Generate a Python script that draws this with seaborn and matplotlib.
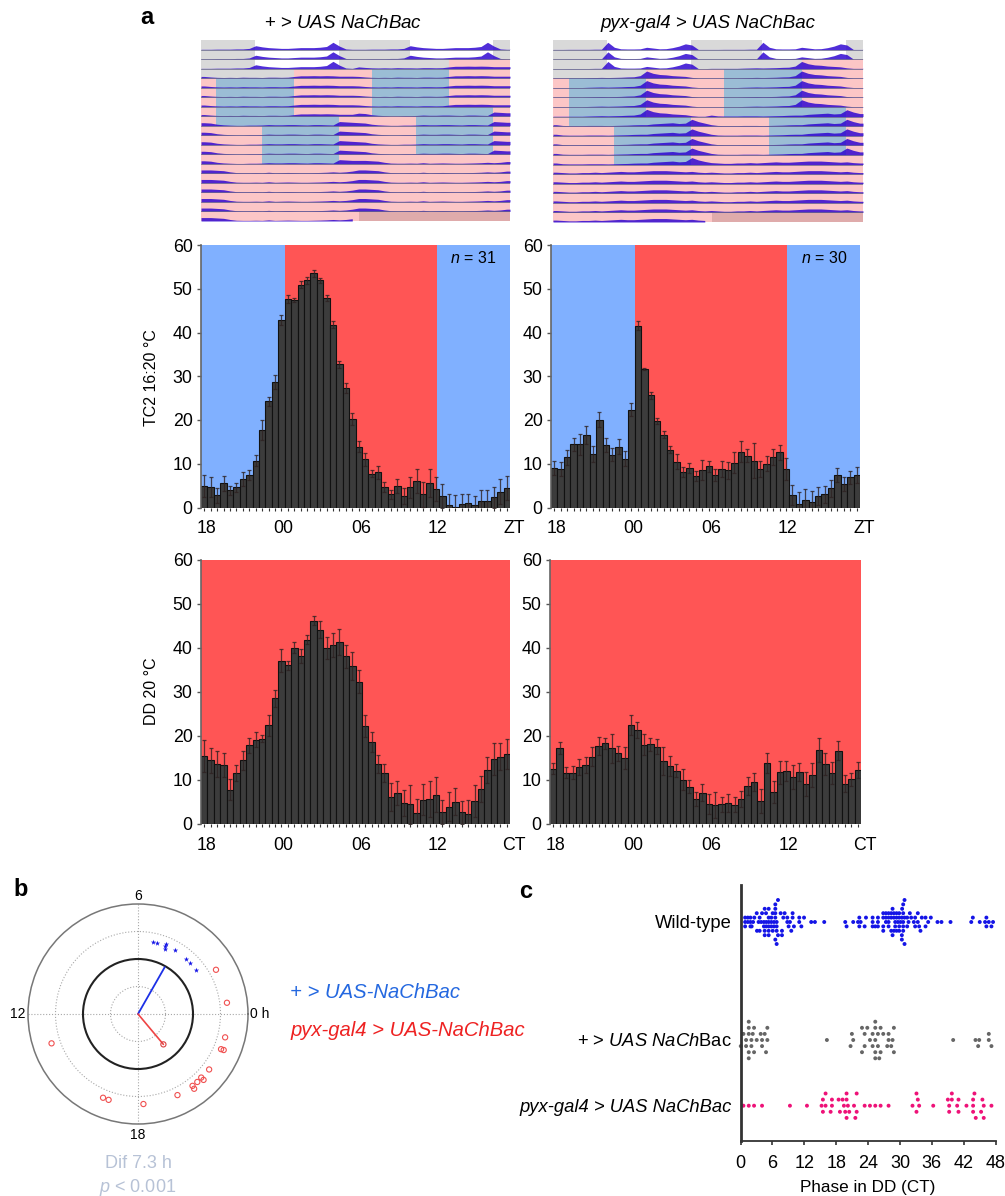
import numpy as np
import pandas as pd
import matplotlib
matplotlib.use("Agg")
import matplotlib.pyplot as plt
import matplotlib.transforms as mtransforms
import seaborn as sns

W, H = 1005, 1196

# activity bars, 48 half-hour bins
tc_ctrl = [4.9, 4.7, 2.8, 5.5, 3.9, 4.6, 6.5, 7.5, 10.7, 17.7, 24.3, 28.7, 42.8, 47.6, 47.4, 50.9,
           51.9, 53.5, 51.9, 47.9, 41.8, 32.8, 27.3, 20.3, 13.9, 11, 7.7, 8.1, 4.7, 3, 5, 2.7,
           4.6, 6.1, 3, 5.6, 4.3, 2.7, 0.5, 0.2, 0.8, 1.1, 0.5, 1.6, 1.5, 2.3, 3.6, 4.4]
tc_ctrl_err = [2.5, 2.2, 1.7, 1.8, 1.1, 1.1, 1.6, 1.1, 1.2, 2.2, 1, 1.5, 1.1, 0.9, 0.4, 0.8,
               0.7, 0.7, 0.6, 0.6, 0.8, 0.8, 1.1, 1.4, 1.3, 1.4, 0.8, 1.5, 1.1, 1.1, 1.6, 1.8,
               2.4, 2.8, 2.8, 3.3, 2.7, 2.7, 2.5, 2.6, 2.4, 2.1, 2.1, 2.4, 2.5, 2.4, 2.9, 2.7]
tc_pyx = [9.1, 8.8, 11.5, 14.5, 14.5, 16.6, 12.2, 20.1, 14.3, 12.1, 13.9, 11.2, 22.4, 41.6, 31.7, 25.7,
          19.7, 16.6, 13.2, 10.5, 8.1, 9, 7.2, 8.6, 9.4, 7.4, 8.8, 8.5, 10.2, 12.7, 11.8, 10.7,
          8.8, 10, 11.5, 12.6, 8.8, 2.9, 0.8, 1.8, 1.3, 2.6, 3, 4.4, 7.4, 5.3, 6.9, 7.4]
tc_pyx_err = [1.6, 1.7, 1.7, 1.5, 2.4, 2.1, 1.8, 1.7, 1.5, 1.5, 1.7, 1.8, 1.5, 1, 0.3, 0.8,
              0.7, 0.8, 0.8, 1.8, 1.2, 1.1, 1.2, 2.2, 1.2, 1.4, 1.8, 2, 2.4, 2.4, 1.5, 4,
              1.8, 1.7, 1.8, 1.7, 2.5, 2.3, 2.8, 2.5, 2.4, 2.1, 2, 1.9, 1.6, 1.6, 1.5, 1.8]
dd_ctrl = [15.5, 14.5, 13.6, 13.4, 7.8, 11.6, 14.5, 17.9, 19.2, 19.4, 22.4, 28.6, 37.1, 36.1, 40.1, 38.2,
           41.9, 46.2, 44.2, 40, 40.7, 41.3, 38.1, 35.9, 32.3, 22.3, 18.7, 13.6, 11.6, 6.1, 7, 4.8,
           4.5, 2.5, 5.5, 5.7, 6.7, 2.7, 3.9, 5.1, 2.7, 2.3, 5.2, 8, 12.3, 14.8, 15.3, 15.9]
dd_ctrl_err = [3.6, 2.8, 2.9, 2.8, 2.4, 1.8, 2.2, 1.7, 1.7, 0.8, 2.3, 1.9, 2.6, 1, 1.2, 1.6,
               1, 1, 2, 2.6, 2.7, 3, 2.6, 3.2, 2.6, 2.5, 2.3, 2.1, 2, 3.2, 2.7, 3,
               4.4, 3.2, 3.5, 4, 4, 2.8, 3.3, 3, 2.6, 3.1, 3.7, 3, 3, 3.6, 3.1, 3.4]
dd_pyx = [12.6, 17.3, 11.7, 11.7, 13, 13.4, 15.3, 17.7, 18.3, 17.2, 16.1, 15, 22.5, 21.4, 18, 18.1,
          17.6, 14.3, 13.2, 12.1, 10.1, 8.5, 5.6, 7.1, 4.5, 4.3, 4.5, 4.8, 4.4, 5.7, 8.7, 9.5,
          5.2, 13.9, 7.3, 11.8, 12.1, 10.7, 11.8, 9.1, 11.1, 16.8, 13.7, 11.6, 16.7, 9.2, 10.2, 12.3]
dd_pyx_err = [1.3, 1.3, 1.3, 1.4, 1.8, 1.9, 2.1, 2, 1.3, 3.3, 1.7, 2.5, 2.3, 1.8, 2.4, 1.5,
              1.7, 3.2, 2.3, 1.5, 2.4, 1.4, 1.6, 1.9, 2.3, 3, 1.7, 2, 1.7, 1.9, 2, 2,
              2.7, 2.2, 2.5, 2.6, 2.3, 2.7, 2, 2.7, 2.7, 2.7, 2.5, 2.6, 2.1, 2, 1.5, 1.9]
bar_ticks = {0: "18", 12: "00", 24: "06", 36: "12"}

# actogram day profiles, 24 hourly bins
left_ld = [.03, .03, .05, .05, .05, .08, .08, .15, .5, .35, .25, .2, .15, .15, .2, .25, .25, .25, .3, .4, .95, .45, .08, .03]
left_tc1 = [.22, .15, .1, .08, .1, .08, .12, .1, .1, .08, .12, .12, .1, .12, .22, .3, .3, .32, .3, .32, .3, .25, .25, .25]
left_tc2 = [.4, .35, .2, .12, .08, .05, .05, .08, .08, .1, .15, .12, .12, .15, .15, .12, .1, .15, .15, .12, .1, .55, .5, .45]
left_dd = [.45, .45, .4, .35, .2, .1, .08, .08, .1, .08, .15, .08, .1, .12, .1, .08, .08, .1, .12, .15, .2, .15, .2, .3]
right_ld = [.02, .02, .03, .03, .03, .03, .05, .05, .95, .3, .1, .08, .08, .1, .3, .2, .1, .12, .25, .45, .75, .6, .02, .02]
right_tc1 = [.05, .05, .05, .05, .05, .08, .1, .12, .1, .12, .14, .18, .2, .35, .95, .65, .5, .45, .35, .3, .25, .12, .05, .05]
right_tc2 = [.2, .1, .08, .08, .08, .1, .1, .1, .08, .1, .12, .14, .18, .2, .2, .3, .35, .4, .45, .35, .4, .9, .6, .4]
right_dd = [.25, .2, .15, .15, .2, .2, .25, .2, .25, .3, .35, .3, .3, .35, .4, .45, .45, .45, .4, .35, .3, .35, .25, .2]
day_counts = [3, 5, 5, 6]

# background per actogram row, (start hour, end hour, phase)
acto_phases = [
    [(0, 8.4, "g"), (8.4, 21.4, "w"), (21.4, 32.4, "g"), (32.4, 45.4, "w"), (45.4, 48, "g")],
    [(0, 8.4, "g"), (8.4, 21.4, "w"), (21.4, 32.4, "g"), (32.4, 45.4, "w"), (45.4, 48, "g")],
    [(0, 8.4, "g"), (8.4, 21.4, "w"), (21.4, 38.5, "g"), (38.5, 48, "p")],
    [(0, 14.4, "g"), (14.4, 26.5, "p"), (26.5, 38.5, "b"), (38.5, 48, "p")],
    [(0, 2.4, "p"), (2.4, 14.4, "b"), (14.4, 26.5, "p"), (26.5, 38.5, "b"), (38.5, 48, "p")],
    [(0, 2.4, "p"), (2.4, 14.4, "b"), (14.4, 26.5, "p"), (26.5, 38.5, "b"), (38.5, 48, "p")],
    [(0, 2.4, "p"), (2.4, 14.4, "b"), (14.4, 26.5, "p"), (26.5, 38.5, "b"), (38.5, 48, "p")],
    [(0, 2.4, "p"), (2.4, 14.4, "b"), (14.4, 26.5, "p"), (26.5, 45.4, "b"), (45.4, 48, "p")],
    [(0, 2.4, "p"), (2.4, 21.4, "b"), (21.4, 33.4, "p"), (33.4, 45.4, "b"), (45.4, 48, "p")],
    [(0, 9.4, "p"), (9.4, 21.4, "b"), (21.4, 33.4, "p"), (33.4, 45.4, "b"), (45.4, 48, "p")],
    [(0, 9.4, "p"), (9.4, 21.4, "b"), (21.4, 33.4, "p"), (33.4, 45.4, "b"), (45.4, 48, "p")],
    [(0, 9.4, "p"), (9.4, 21.4, "b"), (21.4, 33.4, "p"), (33.4, 45.4, "b"), (45.4, 48, "p")],
    [(0, 9.4, "p"), (9.4, 21.4, "b"), (21.4, 48, "p")],
    [(0, 48, "p")],
    [(0, 48, "p")],
    [(0, 48, "p")],
    [(0, 48, "p")],
    [(0, 48, "p")],
    [(0, 24.6, "p"), (24.6, 48, "t")],
]
phase_colors = {"g": "#d9d9d9", "w": "#ffffff", "p": "#fcc6c6", "b": "#9bbdd5", "t": "#dfabab"}

# panel b, hour and vector length
blue_hours = [5.23, 5.01, 4.57, 4.55, 4.51, 4.0, 3.26, 2.97, 2.49]
blue_radius = [.667, .665, .665, .69, .64, .667, .667, .667, .665]
red_hours = [1.97, .48, 23.0, 22.47, 22.48, 21.47, 20.99, 20.99, 20.74, 20.48, 20.46, 19.73, 18.23, 16.74, 16.49, 13.25]
red_radius = [.815, .815, .82, .82, .845, .82, .845, .815, .82, .82, .85, .82, .82, .825, .825, .83]
blue_mean = (4.02, .49)
red_mean = (20.66, .36)

# panel c, phases per dot row, row number counted from group centre
wt_rows = {
    -5: [7.05, 30.85],
    -4: [6.55, 30.6],
    -3: [4.55, 5.3, 6.55, 28.6, 30.4],
    -2: [3.05, 4.05, 4.8, 6.05, 6.55, 7.55, 8.3, 9.8, 26.85, 27.35, 27.85, 28.35, 28.85, 29.35, 29.85, 30.6, 31.85, 33.35],
    -1: [.87, 1.37, 1.87, 2.6, 3.6, 5.3, 5.8, 6.55, 8.05, 8.8, 9.8, 11.05, 11.95, 22.35, 23.6, 24.85, 25.85, 26.85,
         27.35, 27.85, 28.35, 28.85, 29.35, 29.85, 30.35, 30.85, 31.35, 32.1, 32.85, 34.1, 34.8, 35.8, 43.7, 46.25],
    0: [.87, 1.37, 1.87, 2.37, 3.4, 3.9, 4.4, 4.85, 5.3, 5.8, 6.3, 6.8, 8.8, 9.3, 11.05, 13.3, 14.0, 15.75, 19.7, 21.2,
        22.1, 22.6, 24.85, 25.85, 27.35, 27.85, 29.1, 29.6, 30.1, 30.6, 31.6, 32.6, 33.35, 35.3, 37.05, 37.8, 39.5,
        43.4, 45, 46, 46.7, 47.5],
    1: [.87, 1.87, 2.1, 4.4, 4.85, 5.3, 5.8, 6.3, 6.8, 9.05, 10.05, 11.45, 19.95, 22.35, 23.35, 24.85, 25.35, 25.85,
        26.85, 27.85, 29.1, 29.85, 30.6, 31.35, 32.85, 33.6, 34.8, 46.25, 47.2],
    2: [3.1, 3.6, 4.55, 5.3, 6.05, 6.8, 7.8, 9.55, 26.85, 28.35, 28.85, 29.35, 29.85, 30.6, 33.85],
    3: [4.55, 5.3, 7.05, 7.8, 28.6, 30.35],
    4: [6.55, 30.35],
    5: [6.8, 30.85],
}
ctrl_rows = {
    -3: [1.55, 25.35],
    -2: [1.55, 2.55, 5.05, 22.85, 23.85, 25.35, 26.35, 28.85],
    -1: [.55, 1.55, 2.3, 3.8, 4.55, 20.95, 23.35, 24.85, 25.85, 26.85, 27.85, 46.7],
    0: [1.05, 2.05, 3.05, 4.05, 5.05, 16.25, 21.2, 24.35, 25.35, 27.85, 28.6, 40, 44.2, 44.9, 46.7],
    1: [.05, 1.05, 2.05, 4.05, 20.7, 23.35, 24.85, 25.85, 27.6, 28.35, 44.7, 47.2],
    2: [1.55, 2.55, 4.8, 22.85, 25.35, 26.35, 28.85],
    3: [1.55, 25.35, 26.1],
}
pyx_rows = {
    -2: [16, 19.95, 21.85, 33.1, 39.75, 44],
    -1: [15.5, 17.2, 18.45, 19.2, 19.95, 33.35, 39, 39.75, 41, 43.75, 45.5],
    0: [.55, 1.55, 2.55, 4.05, 9.3, 12.5, 15.25, 16, 17.2, 19.45, 20.2, 21.35, 23.35, 24.35, 25.35, 26.35, 27.85,
        32.35, 33.6, 36.25, 39.25, 40.75, 42.5, 43.75, 45.75, 47.2],
    1: [15.5, 16.95, 18.7, 19.7, 20.45, 21.85, 33.1, 39.25, 41, 43.75, 45.25],
    2: [19.95, 21.6, 44.25, 45.75],
}
group_names = ["Wild-type", "+ > $\\mathit{UAS\\ NaCh}$Bac", "pyx-gal4 > UAS NaChBac"]
phase_ticks = [0, 6, 12, 18, 24, 30, 36, 42, 48]


def add_ax(x0, y0, x1, y1, **kw):
    return fig.add_axes([x0 / W, 1 - y1 / H, (x1 - x0) / W, (y1 - y0) / H], **kw)


def draw_actogram(ax, profiles):
    days = []
    for prof, n in zip(profiles, day_counts):
        days += [prof] * n
    days.append([np.nan] * 24)
    hours = np.arange(48) + 0.5
    for r, spans in enumerate(acto_phases):
        for start, end, key in spans:
            ax.broken_barh([(start, end - start)], (r, 1), facecolors=phase_colors[key], lw=0)
    for r in range(len(acto_phases)):
        vals = np.array(days[r] + days[r + 1])
        # hold the first and last bin out to the panel edge
        xs = np.r_[0, hours, 48]
        ys = np.r_[vals[0], vals, vals[-1]]
        ax.fill_between(xs, r + 1, r + 1 - ys * 0.8, color="#2a00d0", alpha=0.82, lw=0)
        end = 24.6 if r == len(acto_phases) - 1 else 48
        ax.plot([0, end], [r + 1, r + 1], color="#66668a", lw=0.7, alpha=0.75)
    ax.set_xlim(0, 48)
    ax.set_ylim(len(acto_phases), 0)
    ax.axis("off")


def draw_bars(ax, vals, errs, spans, end_label):
    x = np.arange(48)
    for start, end, col in spans:
        ax.axvspan(start, end, color=col, lw=0, zorder=0)
    sns.barplot(x=x, y=vals, color="#3c3c3c", saturation=1, width=1, edgecolor="#111111", linewidth=0.8, ax=ax, zorder=2)
    ax.errorbar(x, vals, yerr=errs, fmt="none", ecolor="#2e2222", elinewidth=0.9, capsize=1.5, capthick=0.9, zorder=3, alpha=0.8)
    ax.set_xlim(-0.5, 47.5)
    ax.set_ylim(0, 60)
    ax.set_yticks(range(0, 61, 10))
    ax.set_xticks(x)
    ax.set_xticklabels([bar_ticks.get(i, "") for i in x])
    ax.tick_params(axis="x", length=2.5, width=0.8, color="#333333", pad=6.5, labelsize=12.8)
    ax.tick_params(axis="y", length=3, width=1, color="#555555", pad=3, labelsize=12.8)
    # tick labels sit a little to the right of their bar
    nudge = mtransforms.ScaledTranslation(2 / 100, 0, fig.dpi_scale_trans)
    for lab in ax.get_xticklabels():
        lab.set_transform(lab.get_transform() + nudge)
    ax.set_xlabel("")
    ax.set_ylabel("")
    for s in ["top", "right"]:
        ax.spines[s].set_visible(False)
    ax.spines["left"].set_color("#666666")
    ax.spines["left"].set_linewidth(1.2)
    ax.spines["bottom"].set_visible(False)
    ax.annotate(end_label, xy=(48.1, 0), xycoords=("data", "axes fraction"), xytext=(0, -9),
                textcoords="offset points", ha="center", va="top", fontsize=12.8, annotation_clip=False)


sns.set_theme(style="ticks")
plt.rcParams["font.family"] = ["Liberation Sans", "DejaVu Sans"]
plt.rcParams["mathtext.fontset"] = "custom"
plt.rcParams["mathtext.rm"] = "Liberation Sans"
plt.rcParams["mathtext.it"] = "Liberation Sans:italic"
plt.rcParams["text.color"] = "black"
plt.rcParams["axes.labelcolor"] = "black"
plt.rcParams["xtick.labelcolor"] = "black"
plt.rcParams["ytick.labelcolor"] = "black"

fig = plt.figure(figsize=(W / 100, H / 100), dpi=100, facecolor="white")

# panel a
draw_actogram(add_ax(201, 40, 510, 221), [left_ld, left_tc1, left_tc2, left_dd])
draw_actogram(add_ax(553, 40, 863, 222), [right_ld, right_tc1, right_tc2, right_dd])

BLUE, RED = "#80b0ff", "#ff5555"
tc_spans = [(-0.5, 12.5, BLUE), (12.5, 36.2, RED), (36.2, 47.5, BLUE)]
dd_spans = [(-0.5, 47.5, RED)]
ax_tc1 = add_ax(201, 245, 510, 507.5)
draw_bars(ax_tc1, tc_ctrl, tc_ctrl_err, tc_spans, "ZT")
ax_tc2 = add_ax(551, 245, 860, 507.5)
draw_bars(ax_tc2, tc_pyx, tc_pyx_err, tc_spans, "ZT")
ax_dd1 = add_ax(201, 560, 510, 824)
draw_bars(ax_dd1, dd_ctrl, dd_ctrl_err, dd_spans, "CT")
ax_dd2 = add_ax(550, 560, 861, 824)
draw_bars(ax_dd2, dd_pyx, dd_pyx_err, dd_spans, "CT")
ax_tc1.text(0.88, 0.95, "$\\mathit{n}$ = 31", transform=ax_tc1.transAxes, ha="center", va="center", fontsize=11.5)
ax_tc2.text(0.885, 0.95, "$\\mathit{n}$ = 30", transform=ax_tc2.transAxes, ha="center", va="center", fontsize=11.5)

fig.text(343 / W, 1 - 23 / H, "+ > $\\mathit{UAS\\ NaChBac}$", ha="center", va="center", fontsize=13.5)
fig.text(708 / W, 1 - 23 / H, "pyx-gal4 > UAS NaChBac", style="italic", ha="center", va="center", fontsize=13.4)
fig.text(151 / W, 1 - 378 / H, "TC2 16:20 °C", rotation=90, ha="center", va="center", fontsize=11.5)
fig.text(151 / W, 1 - 691 / H, "DD 20 °C", rotation=90, ha="center", va="center", fontsize=11.5)
fig.text(147 / W, 1 - 18 / H, "a", ha="center", va="center", fontsize=17, fontweight="bold")
fig.text(21 / W, 1 - 890 / H, "b", ha="center", va="center", fontsize=17, fontweight="bold")
fig.text(526 / W, 1 - 892 / H, "c", ha="center", va="center", fontsize=17, fontweight="bold")

# panel b
ax_p = add_ax(28, 904, 248, 1124, projection="polar")
sns.scatterplot(x=np.deg2rad(np.array(blue_hours) * 15), y=blue_radius, marker="*", s=16, color="#1414e6", linewidth=0, ax=ax_p, zorder=3)
sns.scatterplot(x=np.deg2rad(np.array(red_hours) * 15), y=red_radius, marker="o", s=14, facecolor="none", edgecolor="#f05050", linewidth=0.8, ax=ax_p, zorder=3)
ax_p.plot([0, np.deg2rad(blue_mean[0] * 15)], [0, blue_mean[1]], color="#1c30e6", lw=1.3, zorder=4)
ax_p.plot([0, np.deg2rad(red_mean[0] * 15)], [0, red_mean[1]], color="#ee4444", lw=1.2, zorder=4)
sns.scatterplot(x=[np.deg2rad(red_mean[0] * 15)], y=[red_mean[1]], marker="o", s=14, facecolor="none", edgecolor="#d84040", linewidth=0.8, ax=ax_p, zorder=4)
ax_p.set_ylim(0, 1)
ax_p.set_yticks([.25, .5, .75])
ax_p.set_yticklabels([])
ax_p.set_xticks(np.deg2rad([0, 90, 180, 270]))
ax_p.set_xticklabels([])
ax_p.grid(True, color="#a8a8a8", lw=0.8, ls=":")
ring = ax_p.yaxis.get_gridlines()[1]
ring.set_color("#222222")
ring.set_linestyle("-")
ring.set_linewidth(1.5)
ax_p.spines["polar"].set_color("#777777")
ax_p.spines["polar"].set_linewidth(1.1)
ax_p.set_xlabel("")
ax_p.set_ylabel("")
ax_p.set_facecolor("white")
fig.text(138 / W, 1 - 896 / H, "6", ha="center", va="center", fontsize=10)
fig.text(18 / W, 1 - 1014 / H, "12", ha="center", va="center", fontsize=10)
fig.text(260 / W, 1 - 1014 / H, "0 h", ha="center", va="center", fontsize=10)
fig.text(138 / W, 1 - 1135 / H, "18", ha="center", va="center", fontsize=10)
fig.text(138 / W, 1 - 1163 / H, "Dif 7.3 h", color="#b7c2d6", ha="center", va="center", fontsize=13)
fig.text(138 / W, 1 - 1187 / H, "$\\mathit{p}$ < 0.001", color="#b7c2d6", ha="center", va="center", fontsize=13)
fig.text(290 / W, 1 - 992 / H, "+ > UAS-NaChBac", color="#2468e0", style="italic", ha="left", va="center", fontsize=14.6)
fig.text(290 / W, 1 - 1030 / H, "pyx-gal4 > UAS-NaChBac", color="#ee2222", style="italic", ha="left", va="center", fontsize=14.6)

# panel c
group_rows = [wt_rows, ctrl_rows, pyx_rows]
group_centre = [37, 155, 220.7]
row_step = [4.4, 6.1, 6.1]
group_color = ["#1414e6", "#666666", "#ee1278"]
frames = []
for name, rows, centre, step in zip(group_names, group_rows, group_centre, row_step):
    for level, phases in rows.items():
        frames.append(pd.DataFrame({"phase": phases, "y": centre + level * step, "group": name}))
dots = pd.concat(frames)

ax_c = add_ax(740.5, 885, 995.7, 1141)
sns.scatterplot(data=dots, x="phase", y="y", hue="group", palette=dict(zip(group_names, group_color)),
                s=8, linewidth=0, legend=False, clip_on=False, ax=ax_c)
ax_c.set_xlim(0, 48)
ax_c.set_ylim(256, 0)
ax_c.set_xticks(phase_ticks)
ax_c.set_yticks(group_centre)
ax_c.set_yticklabels(group_names)
ax_c.get_yticklabels()[2].set_style("italic")
ax_c.tick_params(axis="y", length=0, pad=6, labelsize=13.2)
ax_c.tick_params(axis="x", length=3, width=1.2, color="#333333", labelsize=13, pad=7)
ax_c.set_xlabel("Phase in DD (CT)", fontsize=12.3, labelpad=6)
ax_c.set_ylabel("")
sns.despine(ax=ax_c)
ax_c.spines["left"].set_color("#333333")
ax_c.spines["left"].set_linewidth(2)
ax_c.spines["bottom"].set_color("#333333")
ax_c.spines["bottom"].set_linewidth(1.3)

fig.savefig("out.png", dpi=100)
